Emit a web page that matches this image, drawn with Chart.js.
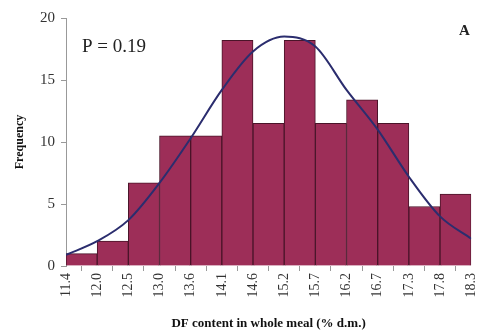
<!DOCTYPE html>
<html>
<head>
<meta charset="utf-8">
<script src="https://cdn.jsdelivr.net/npm/chart.js@4"></script>
<style>
  html, body { margin: 0; padding: 0; background: #fff; }
  #wrap { width: 490px; height: 335px; }
</style>
</head>
<body>
<div id="wrap"><canvas id="histChart" width="490" height="335"></canvas></div>
<script>
// Class boundaries (tick labels) and frequencies
const boundaries = ['11.4', '12.0', '12.5', '13.0', '13.6', '14.1', '14.6', '15.2', '15.7', '16.2', '16.7', '17.3', '17.8', '18.3'];
const frequencies = [1, 2, 6.7, 10.5, 10.5, 18.2, 11.5, 18.2, 11.5, 13.4, 11.5, 4.8, 5.8];
// fitted normal curve, read at each class boundary
const normalCurve = [0.9, 2.0, 3.7, 6.7, 10.3, 14.2, 17.3, 18.5, 17.7, 14.2, 11.0, 7.2, 4.0, 2.2];
const pLabel = 'P = 0.19';
const panelLabel = 'A';

const serif = '"Liberation Serif", "Times New Roman", serif';

// Text annotations in the plot
const annotations = {
    id: 'annotations',
    afterDraw(chart) {
        const ctx = chart.ctx;
        const area = chart.chartArea;
        ctx.save();
        ctx.fillStyle = '#222';
        ctx.textBaseline = 'middle';
        ctx.font = '19px ' + serif;
        ctx.fillText(pLabel, area.left + 16, area.top + 29);
        ctx.font = 'bold 15px ' + serif;
        ctx.fillText(panelLabel, 459, 31);
        ctx.restore();
    }
};

new Chart(document.getElementById('histChart').getContext('2d'), {
    data: {
        datasets: [
            {
                type: 'line',
                data: normalCurve.map((v, i) => ({x: i, y: v})),
                borderColor: '#2b2d6e',
                borderWidth: 2,
                pointRadius: 0,
                tension: 0.4,
                cubicInterpolationMode: 'monotone',
                fill: false
            },
            {
                type: 'bar',
                data: frequencies.map((v, i) => ({x: i + 0.5, y: v})),
                backgroundColor: '#9d2e58',
                borderColor: '#4a1429',
                borderWidth: 1,
                barPercentage: 1,
                categoryPercentage: 1
            }
        ]
    },
    options: {
        responsive: false,
        animation: false,
        layout: { padding: { left: 13, right: 9, top: 18, bottom: 4 } },
        plugins: {
            legend: { display: false },
            tooltip: { enabled: false }
        },
        scales: {
            x: {
                type: 'linear',
                min: 0,
                max: 13,
                offset: false,
                afterFit: (s) => { s.height = 65; },
                grid: { display: true, drawOnChartArea: false, tickLength: 5, color: '#999' },
                border: { display: false },
                ticks: {
                    stepSize: 1,
                    autoSkip: false,
                    maxRotation: 90,
                    minRotation: 90,
                    padding: 2,
                    color: '#333',
                    font: { family: serif, size: 14 },
                    callback: (v) => boundaries[v]
                },
                title: {
                    display: true,
                    text: 'DF content in whole meal (% d.m.)',
                    color: '#111',
                    font: { family: serif, size: 13, weight: 'bold' },
                    padding: { top: 6, bottom: 0 }
                }
            },
            y: {
                min: 0,
                max: 20,
                afterFit: (s) => { s.width = 53; },
                grid: { display: true, drawOnChartArea: false, tickLength: 5, color: '#999' },
                border: { display: true, color: '#999' },
                ticks: {
                    stepSize: 5,
                    padding: 6,
                    color: '#333',
                    font: { family: serif, size: 15 }
                },
                title: {
                    display: true,
                    text: 'Frequency',
                    color: '#111',
                    font: { family: serif, size: 12, weight: 'bold' },
                    padding: { top: 0, bottom: 6 }
                }
            }
        }
    },
    plugins: [annotations]
});
</script>
</body>
</html>
